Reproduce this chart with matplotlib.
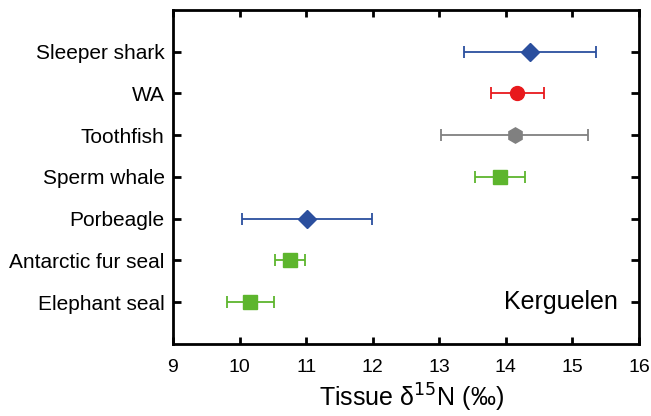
import matplotlib
matplotlib.use("Agg")
import matplotlib.pyplot as plt

plt.rcParams['font.family'] = ['Liberation Sans', 'DejaVu Sans']

# species from bottom to top
species = ["Elephant seal", "Antarctic fur seal", "Porbeagle", "Sperm whale",
           "Toothfish", "WA", "Sleeper shark"]
d15n_mean = [10.16, 10.76, 11.01, 13.91, 14.13, 14.17, 14.36]
d15n_sd = [0.35, 0.23, 0.98, 0.38, 1.10, 0.40, 0.99]
markers = ["s", "s", "D", "s", "h", "o", "D"]
colors = ["#5db52d", "#5db52d", "#2b4f9e", "#5db52d", "#808080", "#e8191c", "#2b4f9e"]
msizes = {"s": 9.5, "D": 9.5, "h": 11, "o": 10}

fig = plt.figure(figsize=(6.51, 4.16), dpi=100)
ax = fig.add_axes([0.2657, 0.1731, 0.7159, 0.8029])

for i, name in enumerate(species):
    ax.errorbar(d15n_mean[i], i, xerr=d15n_sd[i], fmt=markers[i], color=colors[i],
                ecolor=colors[i], elinewidth=1.3, capsize=4, capthick=1.3,
                markersize=msizes[markers[i]])

ax.set_xlim(9, 16)
ax.set_ylim(-1, 7)
ax.set_xticks(range(9, 17))
ax.set_yticks(range(len(species)))
ax.set_yticklabels(species)
ax.tick_params(axis='x', direction='in', top=True, length=5, width=2, labelsize=14, pad=11)
ax.tick_params(axis='y', direction='in', right=True, length=6, width=2, labelsize=15, pad=6)
for s in ax.spines.values():
    s.set_linewidth(2)

ax.set_xlabel("Tissue δ$^{15}$N (‰)", fontsize=18)
ax.xaxis.set_label_coords(0.512, -0.112)
ax.text(0.955, 0.125, "Kerguelen", transform=ax.transAxes, ha='right', va='center', fontsize=18)

fig.savefig("out.png", dpi=100)
